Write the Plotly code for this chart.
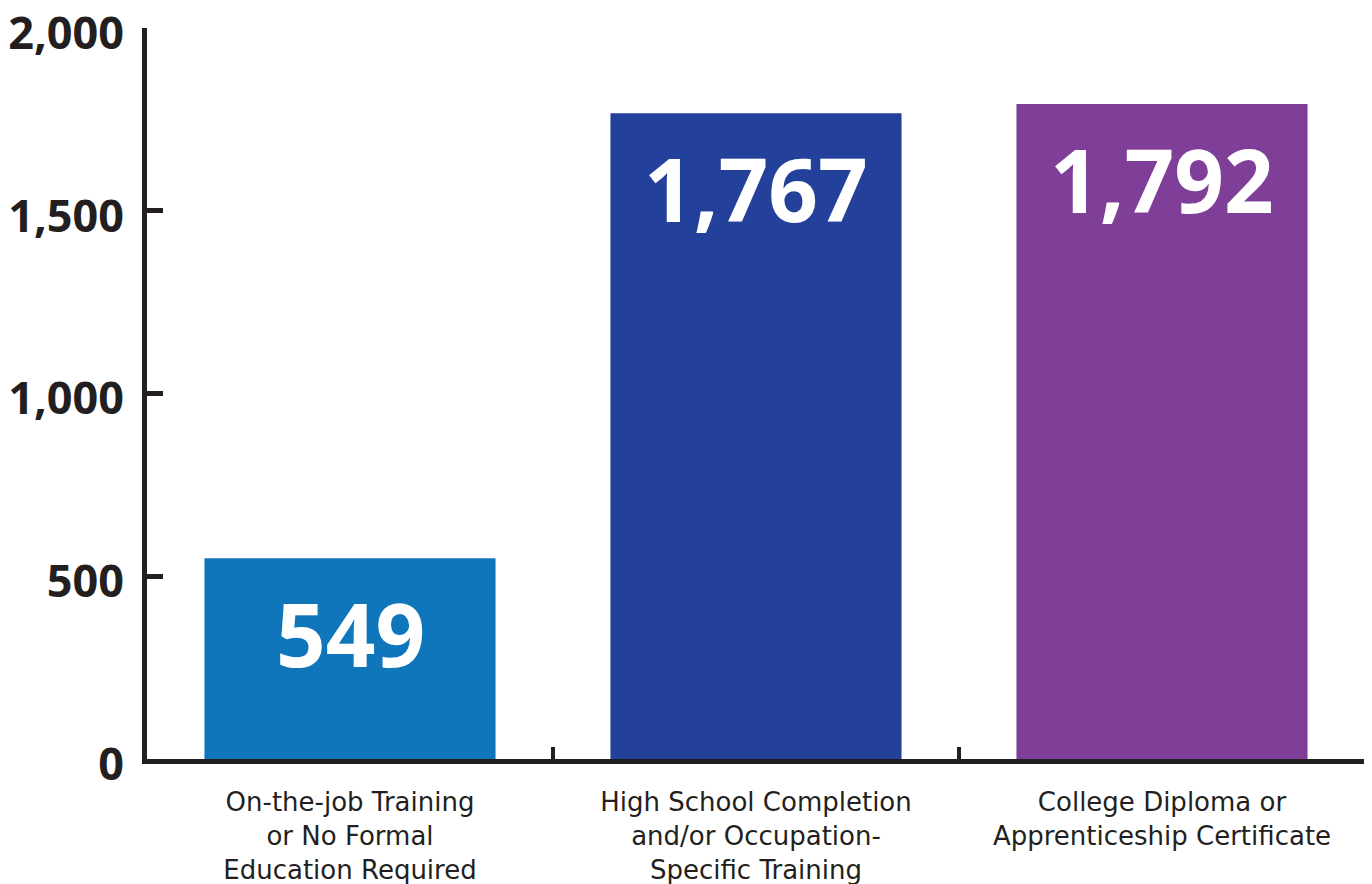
import plotly.graph_objects as go

categories = [
    "On-the-job Training<br>or No Formal<br>Education Required",
    "High School Completion<br>and/or Occupation-<br>Specific Training",
    "College Diploma or<br>Apprenticeship Certificate",
]
values = [549, 1767, 1792]
value_labels = ["549", "1,767", "1,792"]
colors = ["#0f76bc", "#23419a", "#7f3e97"]
y_ticks = [0, 500, 1000, 1500, 2000]
y_tick_labels = ["0", "500", "1,000", "1,500", "2,000"]

axis_color = "#231f20"

fig = go.Figure()
fig.add_trace(go.Bar(
    x=categories,
    y=values,
    marker=dict(color=colors, line=dict(width=0)),
    hoverinfo="skip",
))

for c, v, t in zip(categories, values, value_labels):
    fig.add_annotation(
        x=c, y=v, text=t, showarrow=False,
        yanchor="top", yshift=-14,
        font=dict(family="Open Sans", size=87, color="white", weight=700),
    )

fig.update_layout(
    width=1364, height=876,
    margin=dict(l=139, r=7, t=20, b=125),
    paper_bgcolor="white", plot_bgcolor="white",
    bargap=0.283,
    showlegend=False,
)
fig.update_xaxes(
    type="category",
    automargin=False,
    showline=True, linecolor=axis_color, linewidth=5,
    ticks="inside", tickson="boundaries", ticklen=12, tickwidth=4, tickcolor=axis_color,
    tickfont=dict(family="DejaVu Sans", size=26, color=axis_color),
    showgrid=False, zeroline=False,
    ticklabelstandoff=16,
)
fig.update_yaxes(
    range=[0, 2000],
    automargin=False,
    ticklabeloverflow="allow",
    tickvals=y_ticks, ticktext=y_tick_labels,
    showline=True, linecolor=axis_color, linewidth=5,
    ticks="inside", ticklen=16, tickwidth=5, tickcolor=axis_color,
    tickfont=dict(family="Open Sans", size=45, color=axis_color, weight=700),
    showgrid=False, zeroline=False,
    ticklabelstandoff=9,
    ticklabelshift=5,
)

fig.write_html("out.html")
